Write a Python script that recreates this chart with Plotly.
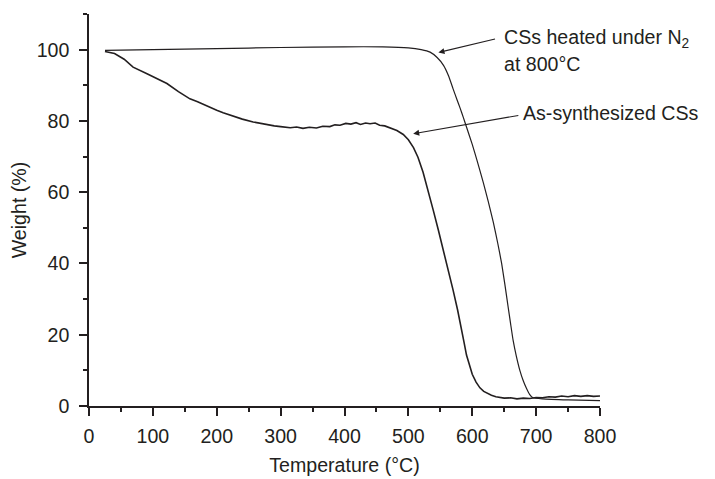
import plotly.graph_objects as go

# Heated under N2 at 800 °C (smooth curve)
heated_x = [25, 100, 200, 300, 400, 460, 500, 520, 534, 545, 555, 563, 570, 576, 581,
            586, 591, 600, 607, 617, 625, 633, 640, 646, 651, 656, 660, 664, 669, 674.5,
            680, 685, 690, 695, 710, 750, 800]
heated_y = [99.8, 100.0, 100.3, 100.6, 100.8, 100.8, 100.5, 100.0, 99.3, 97.8, 95.6, 92.6,
            89.0, 86.0, 83.6, 81.0, 78.3, 73.4, 69.2, 62.9, 57.4, 51.5, 45.6, 40.0, 34.2,
            28.0, 23.1, 18.4, 14.0, 10.0, 7.0, 4.9, 3.2, 2.3, 2.0, 1.7, 1.5]

# As-synthesized CSs (noisy curve)
asyn_x = [25, 30, 40, 55, 69, 90, 105, 122, 140, 158, 170, 182, 200, 210, 221, 240, 257,
          270, 280, 290, 300, 315, 325, 335, 345, 356, 366, 377, 385, 393, 402, 410, 418,
          425, 433, 440, 448, 455, 463, 471, 482, 492, 500, 508, 515, 523, 531, 539, 547,
          555, 562, 570, 577, 583, 587, 591, 596, 600, 606, 612, 618, 624, 630, 637, 643,
          650, 660, 670, 680, 690, 700, 710, 720, 730, 740, 750, 760, 770, 780, 790, 800]
asyn_y = [99.5, 99.3, 98.9, 97.3, 95.1, 93.3, 92.0, 90.5, 88.2, 86.2, 85.4, 84.4, 83.0,
          82.3, 81.6, 80.5, 79.7, 79.3, 78.8, 78.6, 78.4, 78.1, 78.3, 77.9, 78.2, 78.0,
          78.5, 78.4, 78.9, 78.8, 79.3, 79.1, 79.5, 79.0, 79.4, 79.2, 79.4, 78.8, 78.6,
          78.1, 77.3, 76.2, 74.7, 72.5, 69.8, 65.6, 60.5, 54.9, 49.3, 43.7, 38.5, 32.5,
          27.0, 22.0, 18.0, 14.3, 11.1, 8.9, 6.7, 5.1, 4.1, 3.5, 3.0, 2.6, 2.5, 2.2, 2.3,
          2.0, 2.2, 2.1, 2.4, 2.3, 2.6, 2.5, 2.8, 2.6, 2.9, 2.7, 2.9, 2.7, 2.8]

x_ticks = [0, 100, 200, 300, 400, 500, 600, 700, 800]
y_ticks = [0, 20, 40, 60, 80, 100]

FONT = "Liberation Sans, Arial, sans-serif"
INK = "#231f20"
FS = 19.6

fig = go.Figure()
fig.add_trace(go.Scatter(x=heated_x, y=heated_y, mode="lines",
                         line=dict(color=INK, width=1.2, shape="spline", smoothing=0.4),
                         showlegend=False, hoverinfo="skip"))
fig.add_trace(go.Scatter(x=asyn_x, y=asyn_y, mode="lines",
                         line=dict(color=INK, width=1.6),
                         showlegend=False, hoverinfo="skip"))

axis_common = dict(
    showline=True, linecolor=INK, linewidth=1.5, mirror=False,
    ticks="outside", ticklen=8, tickwidth=1.5, tickcolor=INK,
    showgrid=False, zeroline=False, automargin=False,
    tickfont=dict(family=FONT, size=FS, color=INK),
)

fig.update_xaxes(range=[0, 800], tickvals=x_ticks, ticktext=[str(v) for v in x_ticks],
                 minor=dict(dtick=50, tick0=0, ticks="outside", ticklen=4, tickwidth=1.5,
                            tickcolor=INK, showgrid=False),
                 title=dict(text="Temperature (°C)", font=dict(family=FONT, size=FS, color=INK),
                            standoff=12),
                 ticklabelstandoff=4,
                 **axis_common)
fig.update_yaxes(range=[0, 110], tickvals=y_ticks, ticktext=[str(v) for v in y_ticks],
                 minor=dict(dtick=10, tick0=0, ticks="outside", ticklen=4, tickwidth=1.5,
                            tickcolor=INK, showgrid=False),
                 title=dict(text="Weight (%)", font=dict(family=FONT, size=FS, color=INK),
                            standoff=10),
                 ticklabelstandoff=6,
                 **axis_common)

# arrows
fig.add_annotation(x=547, y=99.2, ax=638, ay=103.1, xref="x", yref="y", axref="x", ayref="y",
                   text="", showarrow=True, arrowhead=2, arrowsize=1.1, arrowwidth=1.1,
                   arrowcolor=INK, standoff=0, startstandoff=0)
fig.add_annotation(x=507.5, y=76.4, ax=674.5, ay=81.6, xref="x", yref="y", axref="x", ayref="y",
                   text="", showarrow=True, arrowhead=2, arrowsize=1.1, arrowwidth=1.1,
                   arrowcolor=INK, standoff=0, startstandoff=0)

# labels
fig.add_annotation(x=646, y=103.0, xref="x", yref="y", text="CSs heated under N<sub>2</sub>",
                   showarrow=False, xanchor="left", yanchor="middle",
                   font=dict(family=FONT, size=FS, color=INK))
fig.add_annotation(x=646, y=96.0, xref="x", yref="y", text="at 800°C",
                   showarrow=False, xanchor="left", yanchor="middle",
                   font=dict(family=FONT, size=FS, color=INK))
fig.add_annotation(x=677, y=82.3, xref="x", yref="y", text="As-synthesized CSs",
                   showarrow=False, xanchor="left", yanchor="middle",
                   font=dict(family=FONT, size=FS, color=INK))

# page body has an 8px margin: figure is sized so that the plot area lands where the reference has it
fig.update_layout(
    width=707, height=471,
    margin=dict(l=81, r=115, t=6, b=73),
    paper_bgcolor="white", plot_bgcolor="white",
    font=dict(family=FONT, size=FS, color=INK),
)

fig.write_html("out.html")
